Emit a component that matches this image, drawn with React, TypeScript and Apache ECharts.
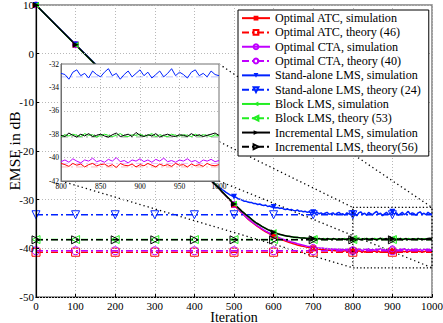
import React, { useEffect, useRef } from "react";
import * as echarts from "echarts";

// ---------- data ----------
const earlyIter = [0, 50, 100, 150, 200, 250, 300, 350, 400, 450];
const lateStart = 455; // then every 5 iterations up to 1000
const lateCount = 110;

const atcEarly = [10, 5.9, 1.85, -2.2, -6.3, -10.35, -14.45, -18.5, -22.6, -26.7];
const atcLate = [
  -27.1, -27.55, -27.95, -28.4, -28.85, -29.3, -29.7, -30.15, -30.6, -31.05,
  -31.5, -31.9, -32.35, -32.75, -33.15, -33.55, -33.95, -34.3, -34.6, -34.95,
  -35.25, -35.55, -35.8, -36.1, -36.35, -36.6, -36.8, -37.05, -37.25, -37.45,
  -37.65, -37.85, -38.0, -38.2, -38.35, -38.5, -38.65, -38.8, -38.9, -39.05,
  -39.15, -39.3, -39.4, -39.5, -39.6, -39.7, -39.8, -39.85, -39.95, -40.0,
  -40.1, -40.1, -40.2, -40.25, -40.3, -40.3, -40.4, -40.35, -40.45, -40.4,
  -40.5, -40.45, -40.6, -40.5, -40.65, -40.45, -40.6, -40.55, -40.7, -40.5,
  -40.6, -40.75, -40.5, -40.65, -40.55, -40.8, -40.6, -40.5, -40.7, -40.6,
  -40.55, -40.75, -40.6, -40.85, -40.5, -40.65, -40.7, -40.55, -40.8, -40.6,
  -40.7, -40.5, -40.65, -40.8, -40.55, -40.7, -40.6, -40.75, -40.5, -40.65,
  -40.6, -40.8, -40.55, -40.7, -40.6, -40.75, -40.5, -40.65, -40.7, -40.6,
];

const ctaEarly = [10, 5.92, 1.83, -2.25, -6.3, -10.4, -14.45, -18.55, -22.65, -26.7];
const ctaLate = [
  -27.1, -27.5, -27.95, -28.4, -28.8, -29.3, -29.7, -30.1, -30.55, -31.0,
  -31.45, -31.85, -32.3, -32.7, -33.1, -33.5, -33.9, -34.2, -34.55, -34.85,
  -35.15, -35.45, -35.7, -35.95, -36.2, -36.45, -36.65, -36.9, -37.1, -37.3,
  -37.5, -37.65, -37.85, -38.0, -38.15, -38.3, -38.45, -38.55, -38.7, -38.8,
  -38.9, -39.05, -39.15, -39.25, -39.35, -39.45, -39.55, -39.6, -39.7, -39.8,
  -39.8, -39.9, -39.95, -40.0, -39.95, -40.1, -40.05, -40.15, -40.1, -40.2,
  -40.15, -40.3, -40.1, -40.25, -40.2, -40.35, -40.15, -40.3, -40.2, -40.35,
  -40.2, -40.4, -40.1, -40.3, -40.45, -40.2, -40.3, -40.05, -40.35, -40.25,
  -40.4, -40.15, -40.3, -40.0, -40.35, -40.25, -40.45, -40.2, -40.3, -40.1,
  -40.35, -40.2, -40.4, -40.15, -40.3, -40.05, -40.35, -40.25, -40.4, -40.2,
  -40.3, -40.1, -40.35, -40.25, -40.45, -40.2, -40.3, -40.15, -40.35, -40.25,
];

const lmsEarly = [10, 5.95, 1.9, -2.15, -6.2, -10.3, -14.35, -18.45, -22.5, -26.6];
const lmsLate = [
  -26.95, -27.3, -27.6, -27.95, -28.2, -28.5, -28.75, -29.0, -29.2, -29.4,
  -29.5, -29.8, -29.9, -30.1, -30.3, -30.3, -30.5, -30.6, -30.6, -30.8,
  -30.8, -31.0, -30.9, -31.1, -31.2, -31.1, -31.4, -31.3, -31.5, -31.5,
  -31.7, -31.6, -31.8, -31.7, -31.9, -32.0, -31.9, -32.1, -32.0, -32.2,
  -32.3, -32.1, -32.4, -32.3, -32.5, -32.4, -32.6, -32.5, -32.7, -32.6,
  -32.8, -32.6, -32.9, -32.7, -33.0, -32.8, -32.6, -33.0, -32.9, -32.7,
  -33.1, -32.8, -32.6, -33.0, -32.9, -33.2, -32.7, -32.9, -33.1, -32.8,
  -32.9, -33.3, -32.7, -32.5, -33.0, -32.8, -33.2, -32.6, -32.9, -33.1,
  -32.7, -32.4, -33.0, -32.8, -33.3, -32.9, -32.6, -33.1, -32.8, -32.5,
  -33.0, -32.7, -33.2, -32.9, -32.6, -33.1, -32.8, -32.4, -33.0, -32.7,
  -32.9, -33.2, -32.7, -32.5, -33.0, -32.8, -33.1, -32.6, -32.9, -33.0,
];

const blockEarly = [10, 5.9, 1.8, -2.25, -6.35, -10.4, -14.5, -18.55, -22.6, -26.65];
const blockLate = [
  -27.0, -27.5, -27.95, -28.35, -28.8, -29.25, -29.6, -30.05, -30.45, -30.85,
  -31.3, -31.65, -32.05, -32.4, -32.75, -33.05, -33.45, -33.75, -34.05, -34.4,
  -34.7, -35.0, -35.25, -35.45, -35.7, -35.95, -36.1, -36.35, -36.5, -36.65,
  -36.9, -36.95, -37.15, -37.2, -37.35, -37.4, -37.45, -37.55, -37.6, -37.65,
  -37.75, -37.7, -37.85, -37.85, -37.9, -37.95, -37.95, -38.0, -38.05, -38.0,
  -38.1, -38.0, -38.1, -38.15, -38.0, -38.1, -38.2, -38.05, -38.1, -38.15,
  -38.0, -38.15, -38.2, -38.05, -38.1, -38.0, -38.2, -38.1, -38.05, -38.2,
  -38.05, -38.15, -38.0, -38.1, -38.2, -37.95, -38.1, -38.05, -38.25, -38.1,
  -38.0, -38.1, -38.2, -38.1, -37.95, -38.15, -38.2, -38.05, -38.1, -38.0,
  -38.15, -38.1, -37.95, -38.2, -38.05, -38.15, -38.2, -38.0, -38.1, -38.15,
  -38.05, -38.1, -38.2, -38.0, -38.15, -38.05, -38.1, -38.2, -38.05, -38.15,
];

const incEarly = [10, 5.88, 1.82, -2.22, -6.3, -10.38, -14.48, -18.55, -22.62, -26.7];
const incLate = [
  -27.1, -27.5, -27.9, -28.4, -28.8, -29.2, -29.6, -30.0, -30.5, -30.9,
  -31.3, -31.6, -32.0, -32.4, -32.7, -33.1, -33.4, -33.7, -34.1, -34.4,
  -34.7, -34.95, -35.2, -35.5, -35.7, -35.9, -36.15, -36.3, -36.5, -36.7,
  -36.85, -37.0, -37.1, -37.2, -37.3, -37.4, -37.5, -37.5, -37.6, -37.7,
  -37.7, -37.75, -37.8, -37.9, -37.85, -37.9, -38.0, -37.95, -38.0, -38.05,
  -38.0, -38.1, -37.95, -38.1, -38.05, -38.2, -38.0, -38.1, -38.15, -38.0,
  -38.1, -38.2, -38.0, -38.15, -38.05, -38.2, -38.1, -37.95, -38.15, -38.1,
  -38.2, -37.9, -38.1, -38.25, -38.0, -38.15, -37.95, -38.2, -38.1, -38.0,
  -38.15, -38.25, -38.05, -37.9, -38.2, -38.1, -38.0, -38.2, -37.85, -38.1,
  -38.2, -38.05, -38.15, -37.95, -38.25, -38.1, -38.0, -38.15, -38.2, -38.05,
  -38.1, -38.2, -37.95, -38.15, -38.05, -38.2, -38.1, -38.0, -37.9, -38.1,
];

// theory (steady-state) levels in dB
const atcTheory = -40.8;
const ctaTheory = -40.5;
const lmsTheory = -33.1;
const blockTheory = -38.2;
const incTheory = -38.25;

const theoryIter = [0, 100, 200, 300, 400, 500, 600, 700, 800, 900, 1000];

// zoom box (main axes) and inset ranges
const zoomBoxX = [800, 1000];
const zoomBoxY = [-31.6, -44];
const insetX = [800, 1000];
const insetY = [-42, -32];

const legendNames = [
  "Optimal ATC, simulation",
  "Optimal ATC, theory (46)",
  "Optimal CTA, simulation",
  "Optimal CTA, theory (40)",
  "Stand-alone LMS, simulation",
  "Stand-alone LMS, theory (24)",
  "Block LMS, simulation",
  "Block LMS, theory (53)",
  "Incremental LMS, simulation",
  "Incremental LMS, theory(56)",
];

// ---------- styling ----------
const FONT = "Liberation Serif";
const C_RED = "#ff0000";
const C_MAG = "#c000ff";
const C_BLUE = "#0022ff";
const C_GREEN = "#22ee22";
const C_BLACK = "#000000";
const DASHDOT = [7, 3, 2, 3];

const simIter = [
  ...earlyIter,
  ...Array.from({ length: lateCount }, (_, i) => lateStart + 5 * i),
];

type Spec = {
  sim: number[];
  theory: number;
  color: string;
  simSymbol: string;
  simHollow: boolean;
  thSymbol: string;
  rotate: number;
  simName: string;
  thName: string;
};

const specs: Spec[] = [
  { sim: [...atcEarly, ...atcLate], theory: atcTheory, color: C_RED, simSymbol: "rect", simHollow: false, thSymbol: "rect", rotate: 0, simName: legendNames[0], thName: legendNames[1] },
  { sim: [...ctaEarly, ...ctaLate], theory: ctaTheory, color: C_MAG, simSymbol: "circle", simHollow: true, thSymbol: "circle", rotate: 0, simName: legendNames[2], thName: legendNames[3] },
  { sim: [...lmsEarly, ...lmsLate], theory: lmsTheory, color: C_BLUE, simSymbol: "triangle", simHollow: false, thSymbol: "triangle", rotate: 180, simName: legendNames[4], thName: legendNames[5] },
  { sim: [...blockEarly, ...blockLate], theory: blockTheory, color: C_GREEN, simSymbol: "triangle", simHollow: false, thSymbol: "triangle", rotate: 90, simName: legendNames[6], thName: legendNames[7] },
  { sim: [...incEarly, ...incLate], theory: incTheory, color: C_BLACK, simSymbol: "triangle", simHollow: false, thSymbol: "triangle", rotate: -90, simName: legendNames[8], thName: legendNames[9] },
];

const isMarker = (x: number) => x % 100 === 0 && x <= 900;
const plainNum = (v: number) => String(v);
const hollow = (c: string) => ({ color: "rgba(255,255,255,0)", borderColor: c, borderWidth: 1 });

function buildOption(): any {
  const series: any[] = [];
  specs.forEach((s) => {
    series.push({
      name: s.simName,
      type: "line",
      xAxisIndex: 0,
      yAxisIndex: 0,
      z: 2,
      symbol: s.simSymbol,
      symbolSize: 6,
      symbolRotate: s.rotate,
      showAllSymbol: true,
      lineStyle: { color: s.color, width: 1.5 },
      itemStyle: s.simHollow ? hollow(s.color) : { color: s.color },
      data: simIter.map((x, i) => ({
        value: [x, s.sim[i]],
        symbol: isMarker(x) ? s.simSymbol : "none",
      })),
    });
    series.push({
      name: s.thName,
      type: "line",
      xAxisIndex: 0,
      yAxisIndex: 0,
      z: 2,
      symbol: s.thSymbol,
      symbolSize: 8,
      symbolRotate: s.rotate,
      showAllSymbol: true,
      lineStyle: { color: s.color, width: 1.5, type: DASHDOT },
      itemStyle: hollow(s.color),
      data: theoryIter.map((x) => ({
        value: [x, s.theory],
        symbol: isMarker(x) ? s.thSymbol : "none",
      })),
    });
  });
  // inset copies
  specs.forEach((s, k) => {
    series.push({
      name: "inset-sim-" + k,
      type: "line",
      xAxisIndex: 1,
      yAxisIndex: 1,
      z: 5,
      symbol: "none",
      lineStyle: { color: s.color, width: 1 },
      data: simIter
        .map((x, i) => [x, s.sim[i]])
        .filter((p) => p[0] >= insetX[0] && p[0] <= insetX[1]),
    });
    series.push({
      name: "inset-th-" + k,
      type: "line",
      xAxisIndex: 1,
      yAxisIndex: 1,
      z: 4,
      symbol: "none",
      lineStyle: { color: s.color, width: 0.8, type: DASHDOT, opacity: 0.35 },
      data: [
        [insetX[0], s.theory],
        [insetX[1], s.theory],
      ],
    });
  });
  // zoom box on main axes
  series.push({
    name: "zoom-box",
    type: "line",
    xAxisIndex: 0,
    yAxisIndex: 0,
    z: 3,
    symbol: "none",
    lineStyle: { color: "#000", width: 1.3, type: [1.3, 2.2] },
    data: [
      [zoomBoxX[0], zoomBoxY[0]],
      [zoomBoxX[1], zoomBoxY[0]],
      [zoomBoxX[1], zoomBoxY[1]],
      [zoomBoxX[0], zoomBoxY[1]],
      [zoomBoxX[0], zoomBoxY[0]],
    ],
  });

  const splitDotted = { show: true, lineStyle: { color: "#b8b8b8", width: 1, type: [1, 2] } };

  return {
    animation: false,
    backgroundColor: "#ffffff",
    textStyle: { fontFamily: FONT },
    grid: [
      {
        left: 36,
        right: 11,
        top: 5,
        bottom: 26,
        show: true,
        borderColor: "#808080",
        borderWidth: 1.5,
        z: 0,
        containLabel: false,
        outerBoundsMode: "none",
      },
      {
        left: 61,
        top: 64,
        width: 158,
        height: 117,
        show: true,
        backgroundColor: "#ffffff",
        borderColor: "#707070",
        borderWidth: 1,
        z: 3,
        containLabel: false,
        outerBoundsMode: "none",
      },
    ],
    xAxis: [
      {
        type: "value",
        gridIndex: 0,
        min: 0,
        max: 1000,
        interval: 100,
        name: "Iteration",
        nameLocation: "middle",
        nameGap: 13,
        nameMoveOverlap: false,
        nameTextStyle: { fontFamily: FONT, fontSize: 14, color: "#000", verticalAlign: "top" },
        axisLine: { show: true, onZero: false, lineStyle: { color: "#000", width: 1.2 } },
        axisTick: { show: true, inside: true, length: 3, lineStyle: { color: "#000" } },
        axisLabel: { fontFamily: FONT, fontSize: 11, color: "#000", margin: 3, formatter: plainNum },
        splitLine: splitDotted,
      },
      {
        type: "value",
        gridIndex: 1,
        min: insetX[0],
        max: insetX[1],
        interval: 50,
        z: 4,
        axisLine: { show: true, onZero: false, lineStyle: { color: "#707070", width: 1 } },
        axisTick: { show: false },
        axisLabel: { fontFamily: FONT, fontSize: 7.5, color: "#000", margin: 1, formatter: plainNum },
        splitLine: splitDotted,
      },
    ],
    yAxis: [
      {
        type: "value",
        gridIndex: 0,
        min: -50,
        max: 10,
        interval: 10,
        z: 3,
        name: "EMSE in dB",
        nameLocation: "middle",
        nameGap: 14,
        nameMoveOverlap: false,
        nameTextStyle: { fontFamily: FONT, fontSize: 15.5, color: "#000" },
        axisLine: { show: true, onZero: false, lineStyle: { color: "#000", width: 1.2 } },
        axisTick: { show: true, inside: true, length: 3, lineStyle: { color: "#000" } },
        axisLabel: { fontFamily: FONT, fontSize: 11, color: "#000", margin: 2, formatter: plainNum },
        splitLine: splitDotted,
      },
      {
        type: "value",
        gridIndex: 1,
        min: insetY[0],
        max: insetY[1],
        interval: 2,
        z: 4,
        axisLine: { show: true, onZero: false, lineStyle: { color: "#707070", width: 1 } },
        axisTick: { show: false },
        axisLabel: { fontFamily: FONT, fontSize: 7.5, color: "#000", margin: 2, formatter: plainNum },
        splitLine: splitDotted,
      },
    ],
    legend: {
      data: legendNames,
      orient: "vertical",
      left: 238,
      top: 10,
      z: 10,
      padding: [1, 8, 2, 3],
      itemGap: 0,
      itemWidth: 28,
      itemHeight: 6,
      backgroundColor: "#ffffff",
      borderColor: "#000000",
      borderWidth: 1,
      borderRadius: 0,
      textStyle: { fontFamily: FONT, fontSize: 12.1, color: "#000", lineHeight: 14.3 },
      selectedMode: false,
    },
    series,
  };
}

export default function App() {
  const ref = useRef<HTMLDivElement>(null);
  useEffect(() => {
    if (!ref.current) return;
    const chart = echarts.init(ref.current, null, { renderer: "svg" });
    chart.setOption(buildOption());

    const toMain = (p: number[]) => chart.convertToPixel({ gridIndex: 0 }, p) as number[];
    const toInset = (p: number[]) => chart.convertToPixel({ gridIndex: 1 }, p) as number[];
    const pairs = [
      [toInset([insetX[0], insetY[1]]), toMain([zoomBoxX[0], zoomBoxY[0]])],
      [toInset([insetX[1], insetY[1]]), toMain([zoomBoxX[1], zoomBoxY[0]])],
      [toInset([insetX[0], insetY[0]]), toMain([zoomBoxX[0], zoomBoxY[1]])],
      [toInset([insetX[1], insetY[0]]), toMain([zoomBoxX[1], zoomBoxY[1]])],
    ];
    chart.setOption({
      graphic: pairs.map((pr) => ({
        type: "line",
        z: 1,
        shape: { x1: pr[0][0], y1: pr[0][1], x2: pr[1][0], y2: pr[1][1] },
        style: { stroke: "#000", lineWidth: 1.3, lineDash: [1.3, 3] },
        silent: true,
      })),
    });
    return () => chart.dispose();
  }, []);
  return (
    <div
      ref={ref}
      style={{ position: "absolute", left: 0, top: 0, width: 443, height: 323 }}
    />
  );
}
